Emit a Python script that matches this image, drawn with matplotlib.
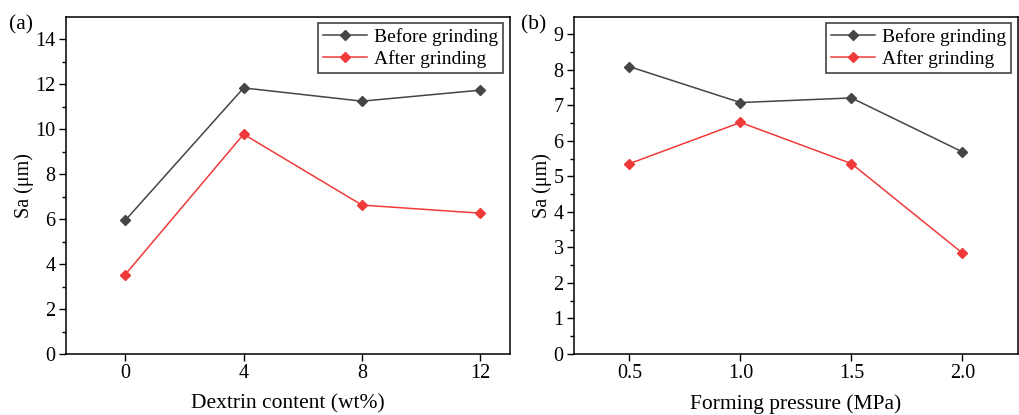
import numpy as np
import matplotlib.pyplot as plt

plt.rcParams['font.family'] = ['Liberation Serif', 'DejaVu Serif']
plt.rcParams['mathtext.fontset'] = 'stix'

# (a) dextrin content series
dextrin = [0, 4, 8, 12]
dextrin_before = [5.94, 11.83, 11.24, 11.73]
dextrin_after = [3.53, 9.77, 6.62, 6.26]

# (b) forming pressure series
pressure = [0.5, 1.0, 1.5, 2.0]
pressure_before = [8.09, 7.08, 7.21, 5.69]
pressure_after = [5.36, 6.52, 5.36, 2.84]

C_BEFORE = '#454545'
C_AFTER = '#f03a3a'

fig = plt.figure(figsize=(10.19, 4.15), dpi=100)
ax1 = fig.add_axes([0.0648, 0.147, 0.4357, 0.813])
ax2 = fig.add_axes([0.5633, 0.147, 0.4357, 0.813])


def draw(ax, x, before, after, xlabel):
    ax.plot(x, before, color=C_BEFORE, marker='D', markersize=5.5, lw=1.1,
            label='Before grinding')
    ax.plot(x, after, color=C_AFTER, marker='D', markersize=5.5, lw=1.1,
            label='After grinding')
    ax.set_xlabel(xlabel, fontsize=15.5, labelpad=8)
    ax.set_ylabel('Sa (μm)', fontsize=14.5, labelpad=1)
    ax.tick_params(axis='both', which='major', direction='out', length=5,
                   width=1, labelsize=14.5, pad=2.5, top=False, right=False)
    ax.tick_params(axis='y', which='minor', direction='out', length=3, width=1)
    ax.tick_params(axis='x', which='minor', bottom=False)
    for s in ax.spines.values():
        s.set_linewidth(1.1)
    leg = ax.legend(loc='upper right', fontsize=14, frameon=True, fancybox=False,
                    edgecolor='black', handlelength=2.3, handletextpad=0.35,
                    borderaxespad=0.35, borderpad=0.25, labelspacing=0.2)
    leg.get_frame().set_linewidth(1.1)


draw(ax1, dextrin, dextrin_before, dextrin_after, 'Dextrin content (wt%)')
ax1.set_xlim(-2, 13)
ax1.set_ylim(0, 15)
ax1.set_xticks(dextrin)
ax1.set_yticks(np.arange(0, 15, 2))
ax1.set_yticks(np.arange(1, 15, 2), minor=True)

draw(ax2, pressure, pressure_before, pressure_after, 'Forming pressure (MPa)')
ax2.set_xlim(0.25, 2.25)
ax2.set_ylim(0, 9.5)
ax2.set_xticks(pressure)
ax2.set_xticklabels(['0.5', '1.0', '1.5', '2.0'])
ax2.set_yticks(np.arange(0, 10, 1))
ax2.set_yticks(np.arange(0.5, 9.5, 1), minor=True)

fig.text(0.009, 0.93, '(a)', fontsize=15.5)
fig.text(0.511, 0.93, '(b)', fontsize=15.5)

fig.savefig('out.png', dpi=100)
